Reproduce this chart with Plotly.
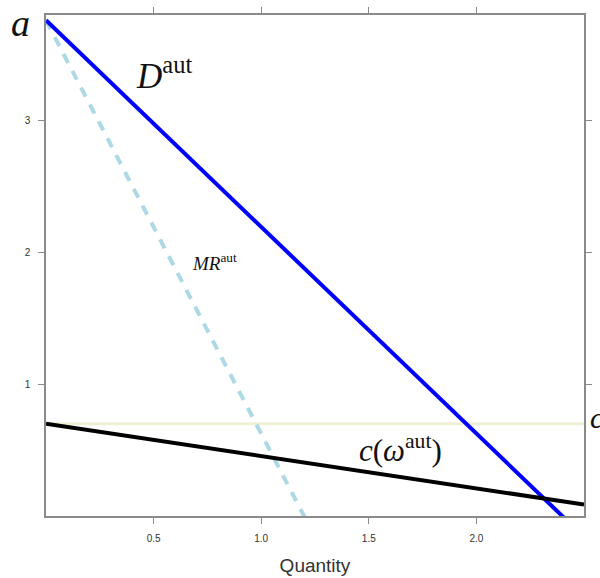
import plotly.graph_objects as go

# Data
demand_q = [0.0, 2.45]
demand_p = [3.76, -0.08]
mr_q = [0.0, 1.25]
mr_p = [3.76, -0.16]
cost_q = [0.0, 2.5]
cost_p = [0.70, 0.087]
cbar_q = [0.0, 2.5]
cbar_p = [0.70, 0.70]
x_ticks = [0.5, 1.0, 1.5, 2.0]
x_tick_labels = ["0.5", "1.0", "1.5", "2.0"]
y_ticks = [1, 2, 3]
y_tick_labels = ["1", "2", "3"]

fig = go.Figure()
fig.add_trace(go.Scatter(x=cbar_q, y=cbar_p, mode="lines",
                         line=dict(color="#f0f0d6", width=3), showlegend=False))
fig.add_trace(go.Scatter(x=mr_q, y=mr_p, mode="lines",
                         line=dict(color="#add8e6", width=4, dash="10px,9px"), showlegend=False))
fig.add_trace(go.Scatter(x=demand_q, y=demand_p, mode="lines",
                         line=dict(color="#0000ff", width=4), showlegend=False))
fig.add_trace(go.Scatter(x=cost_q, y=cost_p, mode="lines",
                         line=dict(color="#000000", width=4), showlegend=False))

serif = "Liberation Serif"
fig.add_annotation(x=0.55, y=3.36, xref="x", yref="y", showarrow=False,
                   text="<i>D</i><sup>aut</sup>", font=dict(family=serif, size=35, color="#111"))
fig.add_annotation(x=0.785, y=1.93, xref="x", yref="y", showarrow=False,
                   text="<i>MR</i><sup>aut</sup>", font=dict(family=serif, size=19, color="#111"))
fig.add_annotation(x=1.645, y=0.51, xref="x", yref="y", showarrow=False,
                   text="<i>c</i>(<i>ω</i><sup>aut</sup>)", font=dict(family=serif, size=31, color="#111"))
fig.add_annotation(x=-0.069, y=1.03, xref="paper", yref="paper", showarrow=False,
                   text="<i>a</i>", font=dict(family=serif, size=38, color="#111"))
fig.add_annotation(x=1.008, y=0.16, xref="paper", yref="paper", showarrow=False, xanchor="left",
                   text="<i>c</i>", font=dict(family=serif, size=30, color="#111"))

axis_common = dict(showgrid=False, zeroline=False, showline=True, linecolor="#8a8a8a",
                   linewidth=1.5, ticks="outside", ticklen=6, tickcolor="#8a8a8a",
                   mirror="ticks", automargin=False, ticklabelstandoff=6,
                   tickfont=dict(family="Liberation Sans", size=10, color="#333"))

fig.update_xaxes(range=[0, 2.5], tickvals=x_ticks, ticktext=x_tick_labels,
                 title=dict(text="Quantity", font=dict(family="Liberation Sans", size=19, color="#333"),
                            standoff=16), **axis_common)
fig.update_yaxes(range=[0, 3.8], tickvals=y_ticks, ticktext=y_tick_labels, **axis_common)

fig.update_layout(width=600, height=578, plot_bgcolor="white", paper_bgcolor="white",
                  margin=dict(l=46, r=16, t=15, b=62))

fig.write_html("out.html", config={"displayModeBar": False},
               post_script="document.body.style.margin='0px';")
